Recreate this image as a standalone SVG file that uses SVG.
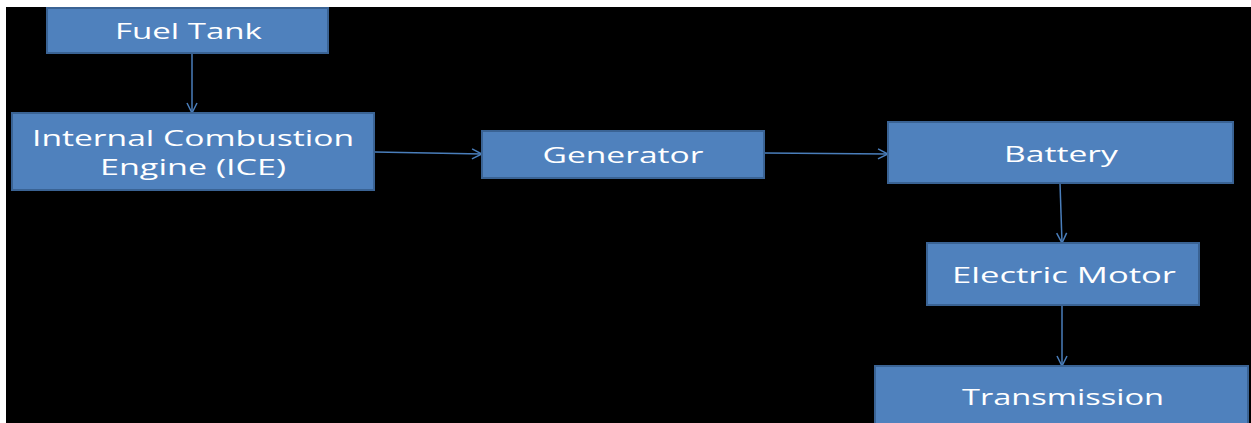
<svg xmlns="http://www.w3.org/2000/svg" width="1251" height="423" viewBox="0 0 1251 423">
<defs>
<style>
.box{fill:#4F81BD;stroke:#3A6394;stroke-width:2}
.lbl{fill:#FFFFFF;font-family:"Open Sans","Liberation Sans",sans-serif;font-size:22px}
.lbl2{fill:#FFFFFF;font-family:"Open Sans","Liberation Sans",sans-serif;font-size:21px}
.con{fill:none;stroke:#4A7EBB;stroke-width:1.5}
</style>
<marker id="arr" viewBox="0 0 12 12" refX="11" refY="6" markerWidth="12" markerHeight="12" markerUnits="userSpaceOnUse" orient="auto">
<path d="M1,1 L11,6 L1,11" fill="none" stroke="#4A7EBB" stroke-width="1.5"/>
</marker>
</defs>
<rect x="0" y="0" width="1251" height="423" fill="#FFFFFF"/>
<rect x="6" y="7" width="1245" height="416" fill="#000000"/>
<g id="connectors">
<line class="con" x1="192" y1="53" x2="192" y2="113" marker-end="url(#arr)"/>
<line class="con" x1="375" y1="152" x2="482" y2="154" marker-end="url(#arr)"/>
<line class="con" x1="764" y1="153" x2="888" y2="154" marker-end="url(#arr)"/>
<line class="con" x1="1060" y1="183" x2="1062" y2="243" marker-end="url(#arr)"/>
<line class="con" x1="1062" y1="305" x2="1062" y2="366" marker-end="url(#arr)"/>
</g>
<g id="fuel-tank">
<rect class="box" x="47" y="8" width="281" height="45"/>
<text class="lbl" x="188.5" y="39" text-anchor="middle" textLength="147" lengthAdjust="spacingAndGlyphs">Fuel Tank</text>
</g>
<g id="ice">
<rect class="box" x="12" y="113" width="362" height="77"/>
<text class="lbl2" x="193" y="146" text-anchor="middle" textLength="322" lengthAdjust="spacingAndGlyphs">Internal Combustion</text>
<text class="lbl2" x="193" y="175" text-anchor="middle" textLength="186" lengthAdjust="spacingAndGlyphs">Engine (ICE)</text>
</g>
<g id="generator">
<rect class="box" x="482" y="131" width="282" height="47"/>
<text class="lbl" x="623" y="163" text-anchor="middle" textLength="161" lengthAdjust="spacingAndGlyphs">Generator</text>
</g>
<g id="battery">
<rect class="box" x="888" y="122" width="345" height="61"/>
<text class="lbl" x="1061" y="162" text-anchor="middle" textLength="114" lengthAdjust="spacingAndGlyphs">Battery</text>
</g>
<g id="electric-motor">
<rect class="box" x="927" y="243" width="272" height="62"/>
<text class="lbl" x="1064" y="283" text-anchor="middle" textLength="224" lengthAdjust="spacingAndGlyphs">Electric Motor</text>
</g>
<g id="transmission">
<rect class="box" x="875" y="366" width="373" height="70"/>
<text class="lbl" x="1063" y="405" text-anchor="middle" textLength="202" lengthAdjust="spacingAndGlyphs">Transmission</text>
</g>
</svg>
